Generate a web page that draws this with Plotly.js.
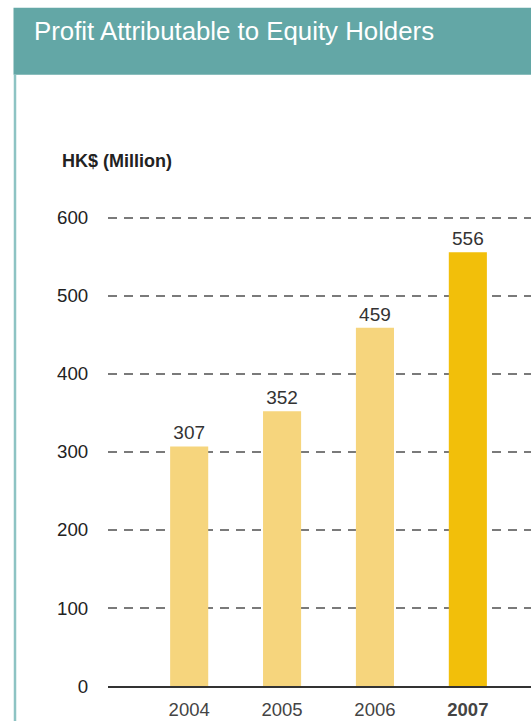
<!DOCTYPE html>
<html><head><meta charset="utf-8">
<script src="https://cdn.plot.ly/plotly-3.0.1.min.js"></script>
<style>html,body{margin:0;padding:0;background:#fff;}#chart{width:531px;height:721px;}</style>
</head><body><div id="chart"></div>
<script>
const years = ['2004', '2005', '2006', '2007'];
const yearLabels = ['2004', '2005', '2006', '<b>2007</b>'];
const profit = [307, 352, 459, 556];
const barColors = ['#F6D57D', '#F6D57D', '#F6D57D', '#F2BF0A'];
const yTicks = [0, 100, 200, 300, 400, 500, 600];

const W = 531, H = 721;
const mL = 108, mR = 0, mT = 209.5, mB = 35;
const pw = W - mL - mR, ph = H - mT - mB;
const px = v => (v - mL) / pw;
const py = v => (H - mB - v) / ph;

const font = 'Liberation Sans, Arial, Helvetica, sans-serif';

const trace = {
  type: 'bar',
  x: [0, 1, 2, 3],
  y: profit,
  width: 0.41,
  marker: {color: barColors, line: {width: 0}},
  text: profit.map(String),
  textposition: 'outside',
  constraintext: 'none',
  textfont: {family: font, size: 19, color: '#333333'},
  cliponaxis: false,
  hoverinfo: 'none'
};

const layout = {
  width: W, height: H,
  margin: {l: mL, r: mR, t: mT, b: mB, pad: 0},
  paper_bgcolor: '#ffffff', plot_bgcolor: 'rgba(0,0,0,0)',
  showlegend: false,
  title: {
    text: 'Profit Attributable to Equity Holders',
    font: {family: font, size: 25.8, color: '#ffffff'},
    xref: 'container', yref: 'container',
    x: 34 / W, xanchor: 'left',
    y: 1 - 31 / H, yanchor: 'middle'
  },
  xaxis: {
    range: [-0.874, 3.68],
    tickvals: [0, 1, 2, 3],
    ticktext: yearLabels,
    tickfont: {family: font, size: 18.5, color: '#444444'},
    showgrid: false, zeroline: false,
    showline: true, linecolor: '#333333', linewidth: 1.5,
    ticks: 'outside', ticklen: 6, tickcolor: 'rgba(0,0,0,0)',
    fixedrange: true
  },
  yaxis: {
    range: [0, 610],
    tickvals: yTicks,
    ticktext: yTicks.map(String),
    tickfont: {family: font, size: 18.7, color: '#222222'},
    showgrid: true, gridcolor: '#7a7a7a', gridwidth: 1.5, griddash: '9px,7px',
    zeroline: false, showline: false,
    ticks: 'outside', ticklen: 15, tickcolor: 'rgba(0,0,0,0)',
    fixedrange: true
  },
  shapes: [
    {type: 'rect', xref: 'paper', yref: 'paper', x0: px(13.5), x1: px(W + 2), y0: py(74), y1: py(7),
     fillcolor: '#63A7A6', line: {width: 0}, layer: 'below'},
    {type: 'line', xref: 'paper', yref: 'paper', x0: px(15), x1: px(15), y0: py(74), y1: py(H + 2),
     line: {color: '#8DC3C3', width: 2.5}, layer: 'below'}
  ],
  annotations: [
    {text: 'HK$ (Million)', xref: 'paper', yref: 'paper', x: px(60), y: py(160),
     xanchor: 'left', yanchor: 'middle', showarrow: false,
     font: {family: font, size: 18, color: '#222222', weight: 600}}
  ]
};

Plotly.newPlot('chart', [trace], layout, {displayModeBar: false, staticPlot: true});
</script></body></html>
